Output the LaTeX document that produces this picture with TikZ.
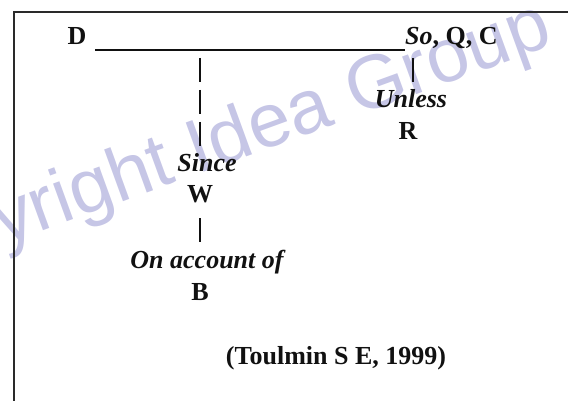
\documentclass[tikz,border=0pt]{standalone}
\usepackage{fontspec}
\setmainfont{Liberation Serif}
\newfontfamily\wmfont{Liberation Sans}
\usepackage{tikz}
\definecolor{ink}{HTML}{111111}
\definecolor{framegray}{HTML}{2A2A2A}
\definecolor{wmark}{HTML}{C6C6E6}
\tikzset{lbl/.style={inner sep=0pt,anchor=base,text=ink,font=\fontsize{26}{30}\selectfont\bfseries},
  itl/.style={lbl,font=\fontsize{26}{30}\selectfont\bfseries\itshape},
  tick/.style={ink,line width=1.4pt}}

\begin{document}
\begin{tikzpicture}[x=1pt,y=-1pt]
\useasboundingbox (0,0) rectangle (568,401);
\clip (0,0) rectangle (568,401);
\node[anchor=base west,rotate=20,inner sep=0pt,text=wmark,font=\wmfont\fontsize{76}{80}\selectfont] (wm) at (-128,293) {Copyright Idea Group Inc.};
\draw[framegray,line width=2pt] (568,12) -- (14,12) -- (14,401);
\node[lbl] (d) at (77,45) {D};
\node[lbl,anchor=base west] (soqc) at (405,45) {\itshape So\upshape, Q, C};
\node[itl] (unless) at (411,108) {Unless};
\node[lbl] (r) at (408,140) {R};
\node[itl] (since) at (207,172) {Since};
\node[lbl] (w) at (200,203) {W};
\node[itl] (acct) at (207,268) {On account of};
\node[lbl] (b) at (200,300) {B};
\node[lbl] (src) at (336,364) {(Toulmin S E, 1999)};
\coordinate (lineL) at (95,50);
\coordinate (lineR) at (405,50);
\coordinate (wtop) at (200,58);
\coordinate (wbot) at (200,146);
\coordinate (btop) at (200,218);
\coordinate (bbot) at (200,242);
\coordinate (rtop) at (413,58);
\coordinate (rbot) at (413,82);
\draw[tick] (lineL) -- (lineR);
\draw[tick,dash pattern=on 24pt off 8pt] (wtop) -- (wbot);
\draw[tick] (btop) -- (bbot);
\draw[tick] (rtop) -- (rbot);
\end{tikzpicture}
\end{document}
